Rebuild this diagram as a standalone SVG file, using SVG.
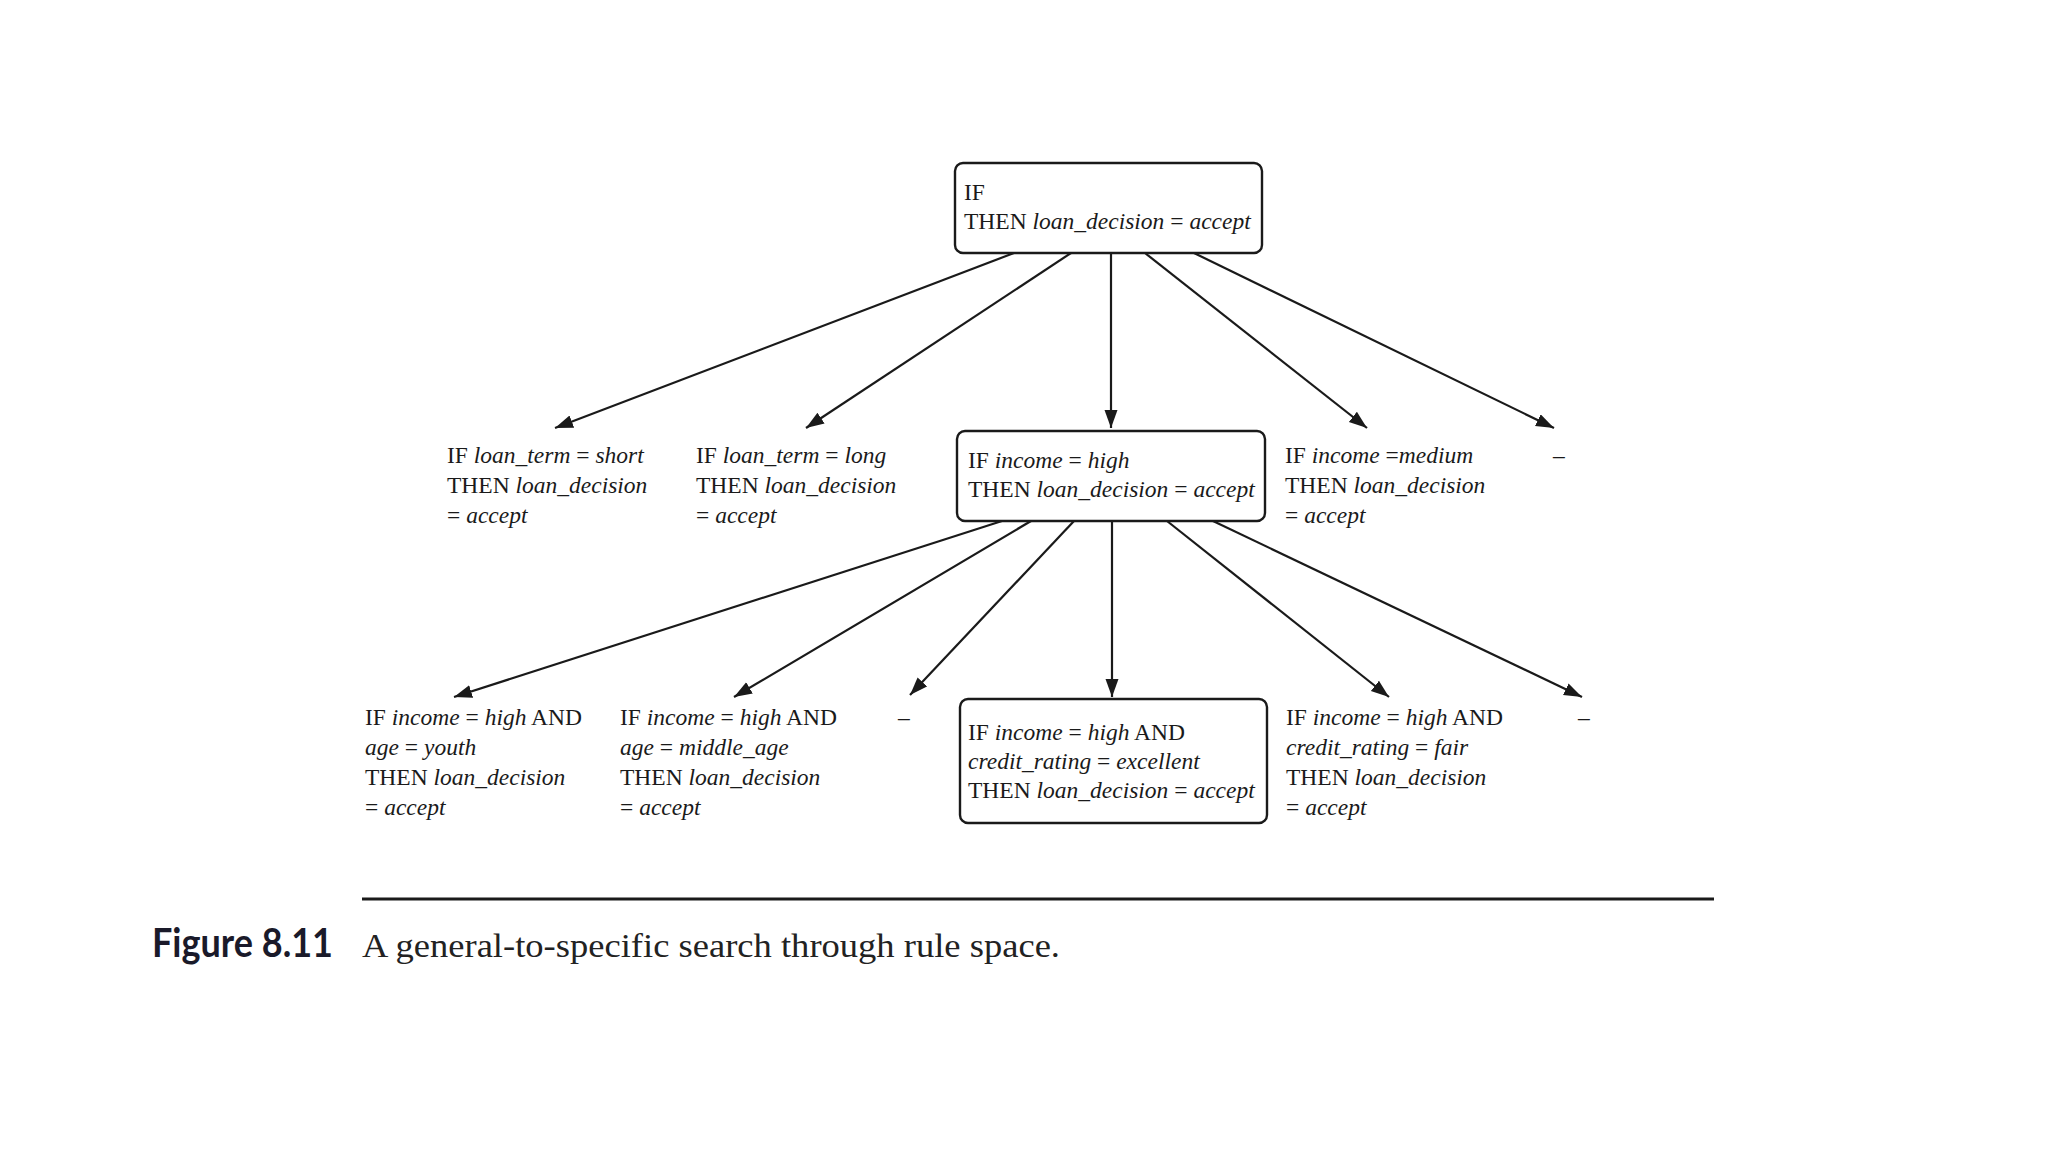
<svg xmlns="http://www.w3.org/2000/svg" width="2048" height="1152" viewBox="0 0 2048 1152">
<style>
.t{font-family:"Liberation Serif","Times New Roman",serif;font-size:23.5px;fill:#1a1a1a}
.i{font-style:italic}
.box{fill:#fff;stroke:#1a1a1a;stroke-width:2.4}
.e{stroke:#1a1a1a;stroke-width:2.2;fill:none;marker-end:url(#ah)}
.cap{font-family:"Liberation Serif","Times New Roman",serif;font-size:34px;fill:#222}
.fig{font-family:Lato,"Liberation Sans",sans-serif;font-weight:700;font-size:40px;fill:#1a1a2a}
</style>
<defs>
<marker id="ah" markerUnits="userSpaceOnUse" markerWidth="20" markerHeight="14" refX="18" refY="6.5" orient="auto">
<path d="M0,0 L18,6.5 L0,13 z" fill="#1a1a1a"/>
</marker>
</defs>
<rect width="2048" height="1152" fill="#fff"/>
<g id="connectors">
<line class="e" x1="1014" y1="253" x2="555" y2="428"/>
<line class="e" x1="1071" y1="253" x2="806" y2="428"/>
<line class="e" x1="1111" y1="253" x2="1111" y2="428"/>
<line class="e" x1="1145" y1="253" x2="1367" y2="428"/>
<line class="e" x1="1194" y1="253" x2="1554" y2="428"/>
<line class="e" x1="1002" y1="521" x2="454" y2="697"/>
<line class="e" x1="1031" y1="521" x2="734" y2="697"/>
<line class="e" x1="1074" y1="521" x2="910" y2="695"/>
<line class="e" x1="1112" y1="521" x2="1112" y2="697"/>
<line class="e" x1="1167" y1="521" x2="1389" y2="697"/>
<line class="e" x1="1213" y1="521" x2="1582" y2="697"/>
</g>
<g id="n_root">
<rect class="box" x="955" y="163" width="307" height="90" rx="8"/>
<text class="t" x="964" y="200">IF</text>
<text class="t" x="964" y="229">THEN <tspan class="i">loan_decision</tspan> = <tspan class="i">accept</tspan></text>
</g>
<g id="n_short">
<text class="t" x="447" y="463">IF <tspan class="i">loan_term</tspan> = <tspan class="i">short</tspan></text>
<text class="t" x="447" y="493">THEN <tspan class="i">loan_decision</tspan></text>
<text class="t" x="447" y="523">= <tspan class="i">accept</tspan></text>
</g>
<g id="n_long">
<text class="t" x="696" y="463">IF <tspan class="i">loan_term</tspan> = <tspan class="i">long</tspan></text>
<text class="t" x="696" y="493">THEN <tspan class="i">loan_decision</tspan></text>
<text class="t" x="696" y="523">= <tspan class="i">accept</tspan></text>
</g>
<g id="n_high">
<rect class="box" x="957" y="431" width="308" height="90" rx="8"/>
<text class="t" x="968" y="468">IF <tspan class="i">income</tspan> = <tspan class="i">high</tspan></text>
<text class="t" x="968" y="497">THEN <tspan class="i">loan_decision</tspan> = <tspan class="i">accept</tspan></text>
</g>
<g id="n_medium">
<text class="t" x="1285" y="463">IF <tspan class="i">income</tspan> =<tspan class="i">medium</tspan></text>
<text class="t" x="1285" y="493">THEN <tspan class="i">loan_decision</tspan></text>
<text class="t" x="1285" y="523">= <tspan class="i">accept</tspan></text>
</g>
<g id="n_more1">
<text class="t" x="1553" y="463">–</text>
</g>
<g id="n_youth">
<text class="t" x="365" y="725">IF <tspan class="i">income</tspan> = <tspan class="i">high</tspan> AND</text>
<text class="t" x="365" y="755"><tspan class="i">age</tspan> = <tspan class="i">youth</tspan></text>
<text class="t" x="365" y="785">THEN <tspan class="i">loan_decision</tspan></text>
<text class="t" x="365" y="815">= <tspan class="i">accept</tspan></text>
</g>
<g id="n_middle">
<text class="t" x="620" y="725">IF <tspan class="i">income</tspan> = <tspan class="i">high</tspan> AND</text>
<text class="t" x="620" y="755"><tspan class="i">age</tspan> = <tspan class="i">middle_age</tspan></text>
<text class="t" x="620" y="785">THEN <tspan class="i">loan_decision</tspan></text>
<text class="t" x="620" y="815">= <tspan class="i">accept</tspan></text>
</g>
<g id="n_more2">
<text class="t" x="898" y="725">–</text>
</g>
<g id="n_excellent">
<rect class="box" x="960" y="699" width="307" height="124" rx="8"/>
<text class="t" x="968" y="740">IF <tspan class="i">income</tspan> = <tspan class="i">high</tspan> AND</text>
<text class="t" x="968" y="769"><tspan class="i">credit_rating</tspan> = <tspan class="i">excellent</tspan></text>
<text class="t" x="968" y="798">THEN <tspan class="i">loan_decision</tspan> = <tspan class="i">accept</tspan></text>
</g>
<g id="n_fair">
<text class="t" x="1286" y="725">IF <tspan class="i">income</tspan> = <tspan class="i">high</tspan> AND</text>
<text class="t" x="1286" y="755"><tspan class="i">credit_rating</tspan> = <tspan class="i">fair</tspan></text>
<text class="t" x="1286" y="785">THEN <tspan class="i">loan_decision</tspan></text>
<text class="t" x="1286" y="815">= <tspan class="i">accept</tspan></text>
</g>
<g id="n_more3">
<text class="t" x="1578" y="725">–</text>
</g>
<g id="caption">
<line x1="362" y1="899" x2="1714" y2="899" stroke="#1a1a1a" stroke-width="3"/>
<text class="fig" x="152" y="957" textLength="181" lengthAdjust="spacingAndGlyphs">Figure 8.11</text>
<text class="cap" x="362" y="957" textLength="698" lengthAdjust="spacingAndGlyphs">A general-to-specific search through rule space.</text>
</g>
</svg>
